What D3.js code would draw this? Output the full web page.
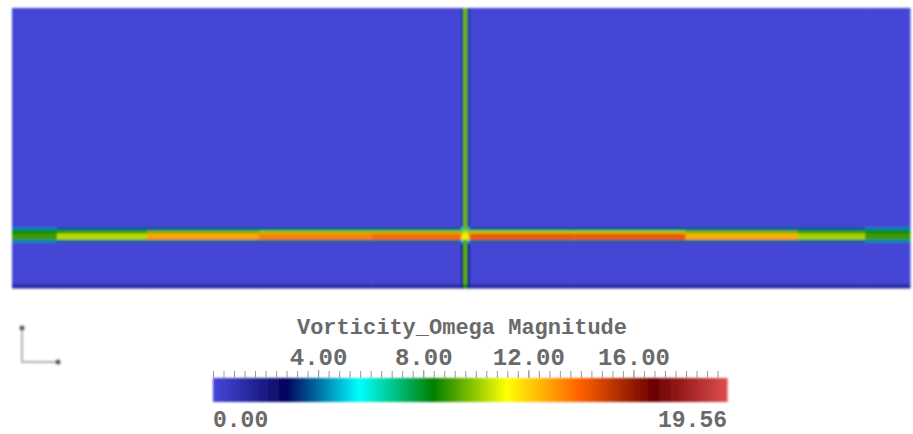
<!DOCTYPE html>
<html>
<head>
<meta charset="utf-8">
<script src="https://cdn.jsdelivr.net/npm/d3@7"></script>
<style>
  body { margin: 0; background: #fff; }
  svg { display: block; }
  text { font-family: "Liberation Mono", "DejaVu Sans Mono", monospace; font-weight: bold; fill: #6a6a6a; }
</style>
</head>
<body>
<div id="chart"></div>
<script>
// Field mesh (x along the channel, y across it) and vorticity magnitude per cell
var xEdges = [0, 0.1, 0.3, 0.55, 0.8, 1.0, 1.005, 1.014, 1.019, 1.25, 1.5, 1.75, 1.9, 2.0];
var yEdges = [0, 0.009, 0.102, 0.109, 0.123, 0.130, 0.137, 0.625];

// rows bottom -> top, one value per column
var omega = [
  [1.2, 1.2, 1.2, 1.2, 1.2, 3.0, 8.6, 3.0, 1.2, 1.2, 1.2, 1.2, 1.2],
  [0.1, 0.1, 0.1, 0.1, 0.1, 3.0, 9.4, 3.0, 0.1, 0.1, 0.1, 0.1, 0.1],
  [4.2, 3.8, 3.8, 3.8, 3.8, 5.0, 9.2, 5.0, 3.8, 3.8, 3.8, 3.8, 4.2],
  [9.0, 10.4, 12.8, 13.4, 13.8, 12.0, 11.0, 12.0, 14.2, 14.2, 12.6, 10.2, 9.0],
  [8.6, 9.0, 9.6, 10.0, 10.0, 9.8, 10.5, 9.8, 10.2, 10.2, 9.6, 9.0, 8.6],
  [4.2, 3.8, 3.8, 3.8, 3.8, 5.0, 9.5, 5.0, 3.8, 3.8, 3.8, 3.8, 4.2],
  [0.1, 0.1, 0.1, 0.1, 0.1, 3.5, 9.6, 3.5, 0.1, 0.1, 0.1, 0.1, 0.1]
];

// Colour map (rainbow desaturated) and scalar bar
var omegaMin = 0;
var omegaMax = 19.56;
var mapStops = [0, 0.143, 0.285, 0.429, 0.571, 0.714, 0.857, 1.0];
var mapColors = ["#4747db", "#00005c", "#00ffff", "#008000", "#ffff00", "#ff6100", "#6b0000", "#e04d4d"];
var majorTicks = [4, 8, 12, 16];
var minorTicks = d3.range(0, 19.56, 0.4);
var barTitle = "Vorticity_Omega Magnitude";

var svgWidth = 913;
var svgHeight = 434;

var svg = d3.select("#chart")
  .append("svg")
  .attr("width", svgWidth)
  .attr("height", svgHeight);

var defs = svg.append("defs");
defs.append("filter")
  .attr("id", "soft")
  .attr("x", "-2%").attr("y", "-5%").attr("width", "104%").attr("height", "110%")
  .append("feGaussianBlur")
  .attr("stdDeviation", 1.1);

var color = d3.scaleLinear()
  .domain(mapStops.map(s => omegaMin + s * (omegaMax - omegaMin)))
  .range(mapColors)
  .clamp(true);

var xScale = d3.scaleLinear().domain([0, 2]).range([12, 910]);
var yScale = d3.scaleLinear().domain([0, 0.625]).range([288, 8]);

// flatten the mesh into cells
var cells = [];
omega.forEach(function(row, j) {
  row.forEach(function(v, i) {
    cells.push({x0: xEdges[i], x1: xEdges[i + 1], y0: yEdges[j], y1: yEdges[j + 1], v: v});
  });
});

var field = svg.append("g").attr("filter", "url(#soft)");
field.selectAll("rect")
  .data(cells)
  .enter()
  .append("rect")
  .attr("x", d => xScale(d.x0))
  .attr("y", d => yScale(d.y1))
  .attr("width", d => xScale(d.x1) - xScale(d.x0) + 0.5)
  .attr("height", d => yScale(d.y0) - yScale(d.y1) + 0.5)
  .attr("fill", d => color(d.v));

// scalar bar
var barScale = d3.scaleLinear().domain([omegaMin, omegaMax]).range([213, 727]);
var barTop = 378;
var barHeight = 24;

var steps = d3.range(0, 256).map(i => omegaMin + i * (omegaMax - omegaMin) / 256);
var stepW = (omegaMax - omegaMin) / 256;
var bar = svg.append("g").attr("filter", "url(#soft)");
bar.selectAll("rect")
  .data(steps)
  .enter()
  .append("rect")
  .attr("x", d => barScale(d))
  .attr("y", barTop)
  .attr("width", d => barScale(d + stepW) - barScale(d) + 0.6)
  .attr("height", barHeight)
  .attr("fill", d => color(d + stepW / 2));

var minorAxis = d3.axisTop(barScale).tickValues(minorTicks).tickFormat("").tickSize(7);
var minorG = svg.append("g")
  .attr("transform", `translate(0, ${barTop})`)
  .call(minorAxis);
minorG.select(".domain").remove();
minorG.selectAll("line").attr("stroke", "#999");

var majorAxis = d3.axisTop(barScale).tickValues(majorTicks)
  .tickFormat(d3.format(".2f")).tickSize(8).tickPadding(5);
var majorG = svg.append("g")
  .attr("transform", `translate(0, ${barTop})`)
  .call(majorAxis);
majorG.select(".domain").remove();
majorG.selectAll("line").attr("stroke", "#999");
majorG.selectAll("text")
  .attr("font-size", 24)
  .attr("font-family", null)
  .attr("fill", null);

svg.append("text")
  .attr("x", barScale(omegaMin))
  .attr("y", 427)
  .attr("font-size", 23)
  .text(d3.format(".2f")(omegaMin));

svg.append("text")
  .attr("x", barScale(omegaMax))
  .attr("y", 427)
  .attr("text-anchor", "end")
  .attr("font-size", 23)
  .text(d3.format(".2f")(omegaMax));

svg.append("text")
  .attr("x", (barScale(omegaMin) + barScale(omegaMax)) / 2 - 8)
  .attr("y", 334)
  .attr("text-anchor", "middle")
  .attr("font-size", 22)
  .text(barTitle);

// orientation triad
var triad = svg.append("g").attr("filter", "url(#soft)");
triad.append("path")
  .attr("d", "M22,326 L22,362 L59,362")
  .attr("fill", "none")
  .attr("stroke", "#999")
  .attr("stroke-width", 1.5);
triad.append("circle").attr("cx", 22).attr("cy", 328).attr("r", 2.5).attr("fill", "#555");
triad.append("circle").attr("cx", 58).attr("cy", 362).attr("r", 2.5).attr("fill", "#555");
</script>
</body>
</html>
